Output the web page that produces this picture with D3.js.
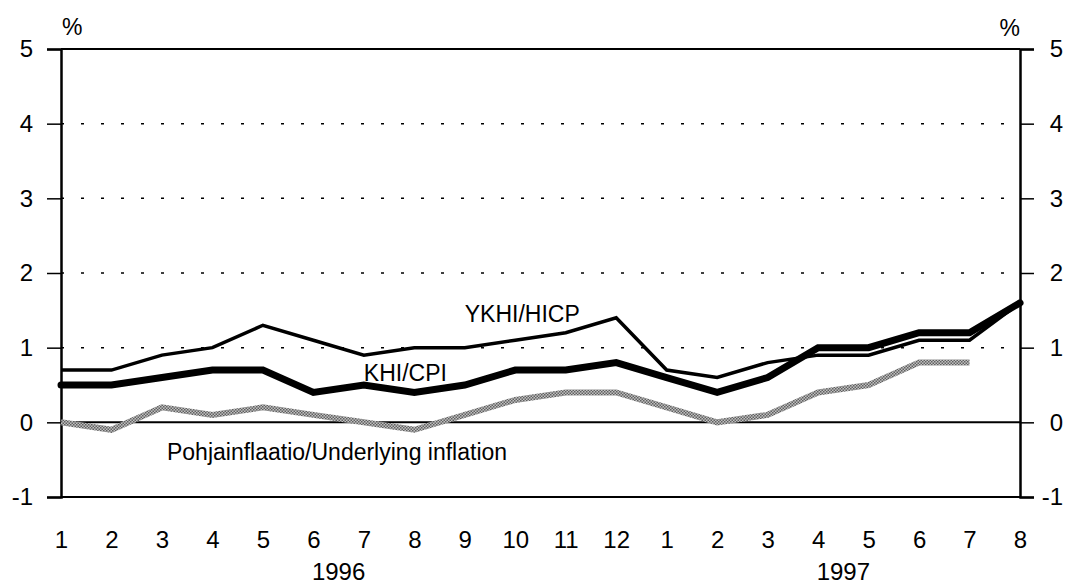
<!DOCTYPE html>
<html lang="en">
<head>
    <meta charset="UTF-8">
    <style>
        body { margin: 0; background: #fff; }
        text { font-family: "Liberation Sans", Arial, Helvetica, sans-serif; fill: #000; }
    </style>
</head>
<body>
    <script src="https://d3js.org/d3.v7.min.js"></script>
    <div id="here"></div>

    <script>
        // months 1/1996 .. 8/1997
        const months = [1, 2, 3, 4, 5, 6, 7, 8, 9, 10, 11, 12, 1, 2, 3, 4, 5, 6, 7, 8];
        const years = [{ label: "1996", from: 0, to: 11 }, { label: "1997", from: 12, to: 19 }];
        const yTicks = [-1, 0, 1, 2, 3, 4, 5];

        const ykhi = [0.7, 0.7, 0.9, 1.0, 1.3, 1.1, 0.9, 1.0, 1.0, 1.1, 1.2, 1.4, 0.7, 0.6, 0.8, 0.9, 0.9, 1.1, 1.1, 1.6];
        const khi = [0.5, 0.5, 0.6, 0.7, 0.7, 0.4, 0.5, 0.4, 0.5, 0.7, 0.7, 0.8, 0.6, 0.4, 0.6, 1.0, 1.0, 1.2, 1.2, 1.6];
        const underlying = [0.0, -0.1, 0.2, 0.1, 0.2, 0.1, 0.0, -0.1, 0.1, 0.3, 0.4, 0.4, 0.2, 0.0, 0.1, 0.4, 0.5, 0.8, 0.8, null];

        const W = 1065, H = 586;
        const margin = { top: 49, right: 45, bottom: 89, left: 61 };
        const width = W - margin.left - margin.right,
              height = H - margin.top - margin.bottom;

        const svg = d3.select("#here")
            .append("svg")
                .attr("width", W)
                .attr("height", H);

        // gray stipple for the underlying inflation line
        const defs = svg.append("defs");
        const pat = defs.append("pattern")
            .attr("id", "stipple")
            .attr("patternUnits", "userSpaceOnUse")
            .attr("width", 3).attr("height", 3);
        pat.append("rect").attr("width", 3).attr("height", 3).attr("fill", "#c0c0c0");
        pat.append("rect").attr("width", 1.5).attr("height", 1.5).attr("fill", "#606060");
        pat.append("rect").attr("x", 1.5).attr("y", 1.5).attr("width", 1.5).attr("height", 1.5).attr("fill", "#606060");

        const g = svg.append("g")
            .attr("transform", `translate(${margin.left},${margin.top})`);

        const x = d3.scalePoint()
            .domain(d3.range(months.length))
            .range([0, width]);

        const y = d3.scaleLinear()
            .domain([-1, 5])
            .range([height, 0]);

        // dotted grid
        g.append("g")
            .selectAll("line")
            .data([1, 2, 3, 4])
            .join("line")
                .attr("x1", 0).attr("x2", width)
                .attr("y1", d => y(d)).attr("y2", d => y(d))
                .attr("stroke", "#000")
                .attr("stroke-width", 1.5)
                .attr("stroke-dasharray", "3,17");

        // solid frame lines: top, zero, bottom
        g.append("g")
            .selectAll("line")
            .data([5, 0, -1])
            .join("line")
                .attr("x1", 0).attr("x2", width)
                .attr("y1", d => y(d)).attr("y2", d => y(d))
                .attr("stroke", "#000")
                .attr("stroke-width", 2);

        const fmt = d => String(d); // plain hyphen, as in the original

        // left axis
        const left = g.append("g")
            .call(d3.axisLeft(y).tickValues(yTicks).tickSize(14).tickPadding(14).tickFormat(fmt));
        left.select(".domain").attr("stroke-width", 2.5);
        left.selectAll(".tick line").attr("stroke-width", 1.5);
        left.selectAll("text").style("font-size", "24px").style("font-family", null);

        // right axis, labels right-aligned so "-1" stays inside the page
        const right = g.append("g")
            .attr("transform", `translate(${width},0)`)
            .call(d3.axisRight(y).tickValues(yTicks).tickSize(14).tickPadding(13).tickFormat(fmt));
        right.select(".domain").attr("stroke-width", 2.5);
        right.selectAll(".tick line").attr("stroke-width", 1.5);
        right.selectAll("text")
            .attr("x", W - margin.left - width - 2)
            .attr("text-anchor", "end")
            .style("font-size", "24px").style("font-family", null);

        // bottom month labels
        const bottom = g.append("g")
            .attr("transform", `translate(0,${height})`)
            .call(d3.axisBottom(x).tickSize(0).tickPadding(34).tickFormat(i => months[i]));
        bottom.select(".domain").remove();
        bottom.selectAll("text").style("font-size", "24px").style("font-family", null);

        g.append("g")
            .selectAll("text")
            .data(years)
            .join("text")
                .attr("x", d => (x(d.from) + x(d.to)) / 2)
                .attr("y", height + 83)
                .attr("text-anchor", "middle")
                .style("font-size", "24px")
                .text(d => d.label);

        // % units
        g.append("text").attr("x", 1).attr("y", -14).style("font-size", "23px").text("%");
        g.append("text").attr("x", width).attr("y", -13).attr("text-anchor", "end").style("font-size", "23px").text("%");

        // series
        const line = d3.line()
            .defined(d => d != null)
            .x((d, i) => x(i))
            .y(d => y(d));

        g.append("path")
            .datum(underlying)
            .attr("fill", "none")
            .attr("stroke", "url(#stipple)")
            .attr("stroke-width", 6)
            .attr("d", line);

        g.append("path")
            .datum(ykhi)
            .attr("fill", "none")
            .attr("stroke", "#000")
            .attr("stroke-width", 3.5)
            .attr("d", line);

        g.append("path")
            .datum(khi)
            .attr("fill", "none")
            .attr("stroke", "#000")
            .attr("stroke-width", 7)
            .attr("stroke-linecap", "round")
            .attr("d", line);

        // series labels
        const labels = [
            { text: "YKHI/HICP", i: 8.0, v: 1.35 },
            { text: "KHI/CPI", i: 6.0, v: 0.56 },
            { text: "Pohjainflaatio/Underlying inflation", i: 2.1, v: -0.5 }
        ];
        g.append("g")
            .selectAll("text")
            .data(labels)
            .join("text")
                .attr("x", d => x(Math.floor(d.i)) + (d.i % 1) * x.step())
                .attr("y", d => y(d.v))
                .style("font-size", "23px")
                .text(d => d.text);
    </script>
</body>
</html>
